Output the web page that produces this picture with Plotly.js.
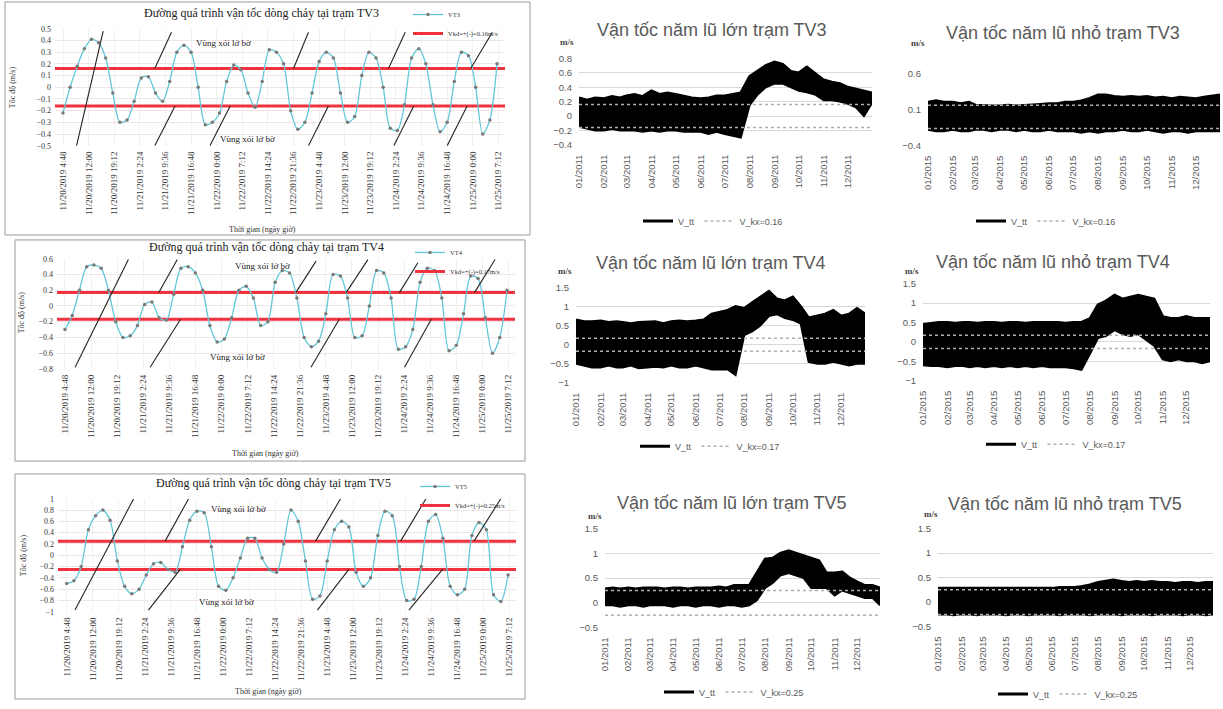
<!DOCTYPE html>
<html><head><meta charset="utf-8">
<script src="https://cdn.plot.ly/plotly-3.0.1.min.js"></script>
<style>html,body{margin:0;padding:0;background:#fff;} #chart{width:1223px;height:709px;}</style>
</head><body><div id="chart"></div>
<script>
// ---------- DATA: hourly-scale panels (left column) ----------
const hours = [0,2,4,6,8,10,12,14,16,18,20,22,24,26,28,30,32,34,36,38,40,42,44,46,48,50,52,54,56,58,60,62,64,66,68,70,72,74,76,78,80,82,84,86,88,90,92,94,96,98,100,102,104,106,108,110,112,114,116,118,120,122];
const tickHours = [0,7.2,14.4,21.6,28.8,36,43.2,50.4,57.6,64.8,72,79.2,86.4,93.6,100.8,108,115.2,122.4];
const tickLabels = ["11/20/2019 4:48","11/20/2019 12:00","11/20/2019 19:12","11/21/2019 2:24","11/21/2019 9:36","11/21/2019 16:48","11/22/2019 0:00","11/22/2019 7:12","11/22/2019 14:24","11/22/2019 21:36","11/23/2019 4:48","11/23/2019 12:00","11/23/2019 19:12","11/24/2019 2:24","11/24/2019 9:36","11/24/2019 16:48","11/25/2019 0:00","11/25/2019 7:12"];
const vTV3 = [-0.22,0.0,0.18,0.33,0.41,0.38,0.25,-0.05,-0.3,-0.28,-0.12,0.08,0.09,-0.05,-0.12,0.05,0.3,0.36,0.3,0.0,-0.32,-0.3,-0.22,0.05,0.19,0.15,-0.05,-0.17,0.05,0.32,0.3,0.2,-0.2,-0.36,-0.3,-0.05,0.22,0.3,0.25,-0.05,-0.3,-0.25,0.1,0.3,0.25,0.0,-0.35,-0.37,-0.15,0.25,0.33,0.2,-0.15,-0.38,-0.3,0.05,0.3,0.27,0.0,-0.4,-0.28,0.2];
const vTV4 = [-0.3,-0.12,0.2,0.5,0.52,0.48,0.2,-0.2,-0.4,-0.38,-0.25,0.02,0.05,-0.15,-0.18,0.15,0.48,0.5,0.42,0.2,-0.25,-0.46,-0.42,-0.15,0.2,0.25,0.1,-0.25,-0.2,0.3,0.45,0.42,0.1,-0.4,-0.52,-0.45,-0.1,0.4,0.38,0.1,-0.4,-0.38,0.0,0.45,0.42,0.1,-0.55,-0.52,-0.3,0.3,0.48,0.45,0.1,-0.57,-0.5,-0.1,0.38,0.35,-0.15,-0.6,-0.4,0.2];
const vTV5 = [-0.5,-0.45,-0.2,0.45,0.7,0.8,0.62,-0.1,-0.55,-0.68,-0.6,-0.35,-0.15,-0.13,-0.25,-0.3,0.15,0.62,0.78,0.75,0.15,-0.55,-0.62,-0.4,-0.05,0.3,0.3,-0.05,-0.25,-0.3,0.2,0.8,0.6,-0.1,-0.78,-0.72,-0.1,0.45,0.6,0.5,-0.3,-0.55,-0.4,0.35,0.78,0.7,-0.2,-0.8,-0.78,-0.2,0.6,0.72,0.3,-0.55,-0.7,-0.6,0.35,0.58,0.45,-0.7,-0.82,-0.35];
const kxTV3 = 0.16, kxTV4 = 0.17, kxTV5 = 0.25;
// leader lines of the "Vùng xói lở bờ" notes: [t0, v0, t1, v1]
const callTV3 = [[3.8,-0.5,11.3,0.48],[25.8,0.16,30.5,0.47],[64.8,0.16,69,0.47],[91.5,0.16,96.2,0.47],[114.6,0.16,120.7,0.47],[25.8,-0.5,31.5,-0.16],[41.3,-0.5,47,-0.16],[69,-0.5,74.6,-0.16],[93,-0.5,98.6,-0.16],[108,-0.5,113.6,-0.16]];
const callTV4 = [[2.8,-0.78,17.5,0.59],[25.9,0.17,31,0.59],[63.7,0.17,69.3,0.57],[77.6,0.17,83.6,0.59],[92.3,0.17,97.4,0.55],[113,0.17,118.7,0.59],[23.5,-0.78,31.9,-0.17],[67.9,-0.78,75.7,-0.17],[93.7,-0.78,101.1,-0.17]];
const callTV5 = [[2.3,-0.97,18.5,1.0],[27.2,0.25,33.7,1.0],[68.8,0.25,75.7,1.0],[92.3,0.25,99.3,1.0],[112.6,0.25,120,1.0],[22.6,-0.97,31.4,-0.25],[69.3,-0.97,78,-0.25],[94.6,-0.97,103.9,-0.25]];

// ---------- DATA: yearly panels (envelope of the dense series, every ~10 days) ----------
const bandDays = ["01-01","01-11","01-21","02-01","02-11","02-21","03-01","03-11","03-21","04-01","04-11","04-21","05-01","05-11","05-21","06-01","06-11","06-21","07-01","07-11","07-21","08-01","08-11","08-21","09-01","09-11","09-21","10-01","10-11","10-21","11-01","11-11","11-21","12-01","12-11","12-21","12-31"];
const upTV3_2011 = [0.25,0.22,0.25,0.24,0.27,0.25,0.28,0.3,0.27,0.35,0.3,0.32,0.3,0.28,0.25,0.24,0.25,0.28,0.28,0.3,0.32,0.55,0.62,0.7,0.75,0.72,0.62,0.6,0.68,0.6,0.5,0.47,0.45,0.4,0.37,0.35,0.32];
const loTV3_2011 = [-0.15,-0.18,-0.2,-0.2,-0.18,-0.2,-0.2,-0.2,-0.22,-0.2,-0.22,-0.2,-0.2,-0.22,-0.22,-0.22,-0.25,-0.22,-0.25,-0.28,-0.3,0.15,0.3,0.4,0.45,0.45,0.4,0.35,0.33,0.3,0.22,0.22,0.2,0.17,0.12,0.0,0.18];
const upTV3_2015 = [0.2,0.22,0.2,0.2,0.18,0.2,0.16,0.15,0.15,0.15,0.16,0.15,0.16,0.17,0.17,0.18,0.18,0.2,0.2,0.22,0.25,0.3,0.3,0.28,0.27,0.28,0.27,0.28,0.26,0.27,0.25,0.27,0.26,0.25,0.27,0.28,0.3];
const loTV3_2015 = [-0.18,-0.2,-0.2,-0.18,-0.2,-0.2,-0.18,-0.18,-0.2,-0.18,-0.18,-0.2,-0.18,-0.2,-0.2,-0.18,-0.2,-0.2,-0.2,-0.22,-0.2,-0.22,-0.2,-0.2,-0.18,-0.2,-0.2,-0.18,-0.2,-0.22,-0.2,-0.2,-0.22,-0.2,-0.2,-0.2,-0.2];
const upTV4_2011 = [0.65,0.6,0.6,0.62,0.58,0.6,0.58,0.55,0.58,0.6,0.6,0.55,0.6,0.62,0.6,0.62,0.65,0.8,0.85,0.9,1.0,0.95,1.1,1.25,1.4,1.2,1.15,1.25,1.0,0.7,0.75,0.8,0.9,0.75,0.8,0.95,0.8];
const loTV4_2011 = [-0.5,-0.55,-0.6,-0.6,-0.55,-0.6,-0.6,-0.55,-0.62,-0.6,-0.58,-0.6,-0.55,-0.6,-0.6,-0.55,-0.6,-0.65,-0.65,-0.65,-0.8,0.25,0.35,0.5,0.75,0.8,0.7,0.65,0.55,-0.45,-0.5,-0.5,-0.45,-0.5,-0.55,-0.5,-0.5];
const upTV4_2015 = [0.45,0.48,0.5,0.5,0.48,0.5,0.5,0.48,0.5,0.5,0.48,0.5,0.5,0.48,0.5,0.5,0.5,0.5,0.48,0.5,0.5,0.6,0.95,1.05,1.2,1.1,1.15,1.2,1.15,1.1,0.65,0.6,0.6,0.65,0.6,0.6,0.6];
const loTV4_2015 = [-0.6,-0.62,-0.62,-0.65,-0.62,-0.62,-0.65,-0.62,-0.65,-0.62,-0.65,-0.62,-0.65,-0.62,-0.65,-0.62,-0.65,-0.65,-0.65,-0.68,-0.72,-0.3,0.1,0.15,0.3,0.2,0.15,0.2,0.05,-0.1,-0.45,-0.5,-0.45,-0.5,-0.5,-0.55,-0.5];
const upTV5_2011 = [0.28,0.3,0.28,0.3,0.28,0.3,0.3,0.3,0.28,0.3,0.3,0.28,0.3,0.3,0.3,0.32,0.3,0.35,0.35,0.35,0.6,0.88,0.9,1.0,1.05,1.0,0.95,0.9,0.85,0.6,0.6,0.62,0.5,0.42,0.35,0.35,0.3];
const loTV5_2011 = [-0.05,-0.05,-0.08,-0.05,-0.05,-0.08,-0.05,-0.05,-0.05,-0.08,-0.05,-0.05,-0.08,-0.05,-0.05,-0.08,-0.05,-0.05,-0.08,-0.05,0.05,0.3,0.4,0.55,0.6,0.55,0.5,0.3,0.3,0.3,0.15,0.25,0.2,0.15,0.1,0.1,-0.05];
const upTV5_2015 = [0.28,0.28,0.27,0.28,0.27,0.28,0.28,0.27,0.28,0.27,0.28,0.28,0.27,0.28,0.28,0.28,0.3,0.3,0.3,0.32,0.35,0.4,0.42,0.45,0.42,0.4,0.42,0.4,0.42,0.4,0.4,0.38,0.4,0.4,0.38,0.4,0.4];
const loTV5_2015 = [-0.25,-0.25,-0.27,-0.25,-0.25,-0.27,-0.25,-0.25,-0.25,-0.27,-0.25,-0.25,-0.27,-0.25,-0.25,-0.25,-0.27,-0.25,-0.25,-0.25,-0.27,-0.25,-0.25,-0.25,-0.27,-0.25,-0.25,-0.25,-0.27,-0.25,-0.25,-0.25,-0.27,-0.25,-0.25,-0.27,-0.25];

// ---------- LAYOUT HELPERS ----------
const W = 1223, H = 709;
const fx = p => p / W, fy = p => 1 - p / H;
const SERIF = 'Liberation Serif, Times New Roman, serif';
const SANS = 'Liberation Sans, Arial, sans-serif';
const GREY = '#595959';

const leftPanels = [
  {st:'TV3', series:'VT3', vals:vTV3, kx:kxTV3, frame:[5,2,530,237], plot:[55,29,505,147], xr:[-2.25,124.25], yr:[-0.5,0.5], dtick:0.1,
   title:[261,13], ytitle:[12,88], xtitle:[262,231], leg:[408,0], calls:callTV3, zt:[45,0.38], zb:[52,-0.44]},
  {st:'TV4', series:'VT4', vals:vTV4, kx:kxTV4, frame:[15,242,525,465], plot:[57,261,515,372], xr:[-2.2,124.2], yr:[-0.8,0.6], dtick:0.2,
   title:[266,249], ytitle:[21,315], xtitle:[265,457], leg:[410,240], calls:callTV4, zt:[54.5,0.51], zb:[47.7,-0.65]},
  {st:'TV5', series:'VT5', vals:vTV5, kx:kxTV5, frame:[15,478,525,705], plot:[58,503,516,617], xr:[-2.4,124.2], yr:[-1,1], dtick:0.2,
   title:[273,487], ytitle:[23,560], xtitle:[268,697], leg:[415,476], calls:callTV5, zt:[47.5,0.82], zb:[44.3,-0.82]}
];
const rightPanels = [
  {title:'Vận tốc năm lũ lớn trạm TV3', year:2011, up:upTV3_2011, lo:loTV3_2011, kx:kxTV3, plot:[579,59,872,146], yr:[-0.4,0.8], dtick:0.2, tick0:0, tpos:[712,30], unit:[567,42], leg:[713,223]},
  {title:'Vận tốc năm lũ nhỏ trạm TV3', year:2015, up:upTV3_2015, lo:loTV3_2015, kx:kxTV3, plot:[928,74,1220,147], yr:[-0.4,0.6], dtick:0.5, tick0:-0.4, tpos:[1063,33], unit:[918,43], leg:[1046,223]},
  {title:'Vận tốc năm lũ lớn trạm TV4', year:2011, up:upTV4_2011, lo:loTV4_2011, kx:kxTV4, plot:[576,290,865,386], yr:[-1,1.5], dtick:0.5, tick0:0, tpos:[711,265], unit:[565,273], leg:[710,450]},
  {title:'Vận tốc năm lũ nhỏ trạm TV4', year:2015, up:upTV4_2015, lo:loTV4_2015, kx:kxTV4, plot:[923,286,1210,384], yr:[-1,1.5], dtick:0.5, tick0:0, tpos:[1053,264], unit:[912,273], leg:[1056,448]},
  {title:'Vận tốc năm lũ lớn trạm TV5', year:2011, up:upTV5_2011, lo:loTV5_2011, kx:kxTV5, plot:[605,533,880,633], yr:[-0.5,1.5], dtick:0.5, tick0:0, tpos:[732,507], unit:[595,520], leg:[734,698]},
  {title:'Vận tốc năm lũ nhỏ trạm TV5', year:2015, up:upTV5_2015, lo:loTV5_2015, kx:kxTV5, plot:[938,533,1213,632], yr:[-0.5,1.5], dtick:0.5, tick0:0, tpos:[1065,508], unit:[931,518], leg:[1068,700]}
];

const data = [];
const layout = {
  width: W, height: H, margin: {l:0, r:0, t:0, b:0},
  paper_bgcolor: '#fff', plot_bgcolor: 'rgba(0,0,0,0)',
  showlegend: true, annotations: [], shapes: []
};
let n = 0;
const axName = (k, a) => a + 'axis' + (k === 1 ? '' : k);
const axRef = (k, a) => a + (k === 1 ? '' : k);
const legName = k => 'legend' + (k === 1 ? '' : k);

// ----- left panels -----
leftPanels.forEach(p => {
  n += 1;
  const xa = axRef(n, 'x'), ya = axRef(n, 'y'), lg = legName(n);
  layout.shapes.push({type:'rect', xref:'paper', yref:'paper', x0:fx(p.frame[0]), x1:fx(p.frame[2]), y0:fy(p.frame[3]), y1:fy(p.frame[1]), line:{color:'#9a9a9a', width:1}, layer:'below'});
  layout[axName(n,'x')] = {domain:[fx(p.plot[0]), fx(p.plot[2])], range:p.xr, anchor:ya,
    tickmode:'array', tickvals:tickHours, ticktext:tickLabels, tickangle:-90, ticklabelstandoff:3,
    tickfont:{family:SERIF, size:9, color:'#333'}, showgrid:true, gridcolor:'#eef3ee', gridwidth:1,
    zeroline:false, showline:false, ticks:''};
  layout[axName(n,'y')] = {domain:[fy(p.plot[3]), fy(p.plot[1])], range:p.yr, anchor:xa,
    dtick:p.dtick, tick0:0, tickfont:{family:SERIF, size:8, color:'#333'}, showgrid:true, ticklabelstandoff:3,
    gridcolor:'#f1e4e6', zeroline:false, showline:false, ticks:''};
  // red threshold lines
  data.push({type:'scatter', mode:'lines', x:[p.xr[0], p.xr[1]], y:[p.kx, p.kx], xaxis:xa, yaxis:ya,
    line:{color:'#f0323f', width:3}, name:'Vkđ=+(-)=' + p.kx.toFixed(2) + 'm/s', legend:lg, legendrank:2, hoverinfo:'skip'});
  data.push({type:'scatter', mode:'lines', x:[p.xr[0], p.xr[1]], y:[-p.kx, -p.kx], xaxis:xa, yaxis:ya,
    line:{color:'#f0323f', width:3}, showlegend:false, hoverinfo:'skip'});
  // velocity curve
  data.push({type:'scatter', mode:'lines+markers', x:hours, y:p.vals, xaxis:xa, yaxis:ya,
    line:{color:'#62c8d8', width:1.3, shape:'spline', smoothing:0.8},
    marker:{color:'#7a7a7a', size:3.5}, name:p.series, legend:lg, legendrank:1});
  // leader lines
  p.calls.forEach(c => layout.shapes.push({type:'line', xref:xa, yref:ya, x0:c[0], y0:c[1], x1:c[2], y1:c[3], line:{color:'#222', width:1.1}}));
  layout.annotations.push(
    {xref:'paper', yref:'paper', x:fx(p.title[0]), y:fy(p.title[1]), text:'Đường quá trình vận tốc dòng chảy tại trạm ' + p.st,
     showarrow:false, font:{family:SERIF, size:12, color:'#222'}, xanchor:'center', yanchor:'middle'},
    {xref:'paper', yref:'paper', x:fx(p.ytitle[0]), y:fy(p.ytitle[1]), text:'Tốc độ (m/s)', textangle:-90,
     showarrow:false, font:{family:SERIF, size:8, color:'#333'}, xanchor:'center', yanchor:'middle'},
    {xref:'paper', yref:'paper', x:fx(p.xtitle[0]), y:fy(p.xtitle[1]), text:'Thời gian (ngày giờ)',
     showarrow:false, font:{family:SERIF, size:8, color:'#333'}, xanchor:'center', yanchor:'middle'},
    {xref:xa, yref:ya, x:p.zt[0], y:p.zt[1], text:'Vùng xói lở bờ', showarrow:false, font:{family:SERIF, size:9, color:'#222'}},
    {xref:xa, yref:ya, x:p.zb[0], y:p.zb[1], text:'Vùng xói lở bờ', showarrow:false, font:{family:SERIF, size:9, color:'#222'}}
  );
  layout[lg] = {x:fx(p.leg[0]), y:fy(p.leg[1]), xanchor:'left', yanchor:'top', orientation:'v',
    font:{family:SERIF, size:6.5, color:'#333'}, bgcolor:'rgba(0,0,0,0)', tracegroupgap:0, itemwidth:30, traceorder:'normal'};
});

// ----- right panels -----
rightPanels.forEach(p => {
  n += 1;
  const xa = axRef(n, 'x'), ya = axRef(n, 'y'), lg = legName(n);
  const dates = bandDays.map(d => p.year + '-' + d);
  const x0 = dates[0], x1 = dates[dates.length - 1];
  layout[axName(n,'x')] = {domain:[fx(p.plot[0]), fx(p.plot[2])], type:'date', range:[x0, x1], anchor:ya,
    tickformat:'%m/%Y', dtick:'M1', tick0:x0, tickangle:-90, ticklabelstandoff:7, tickfont:{family:SANS, size:9.5, color:GREY},
    showgrid:false, zeroline:false, showline:false, ticks:''};
  layout[axName(n,'y')] = {domain:[fy(p.plot[3]), fy(p.plot[1])], range:p.yr, anchor:xa,
    dtick:p.dtick, tick0:p.tick0, tickfont:{family:SANS, size:9.5, color:GREY}, showgrid:true, ticklabelstandoff:6,
    gridcolor:'#d9d9d9', zeroline:false, showline:false, ticks:''};
  data.push({type:'scatter', mode:'lines', x:dates, y:p.up, xaxis:xa, yaxis:ya,
    line:{color:'#000', width:3}, name:'V_tt', legend:lg, legendrank:1, hoverinfo:'skip'});
  data.push({type:'scatter', mode:'lines', x:dates, y:p.lo, xaxis:xa, yaxis:ya, fill:'tonexty', fillcolor:'#000',
    line:{color:'#000', width:2}, showlegend:false, hoverinfo:'skip'});
  data.push({type:'scatter', mode:'lines', x:[x0, x1], y:[p.kx, p.kx], xaxis:xa, yaxis:ya,
    line:{color:'#b0b0b0', width:1.5, dash:'dot'}, name:'V_kx=' + p.kx.toFixed(2), legend:lg, legendrank:2, hoverinfo:'skip'});
  data.push({type:'scatter', mode:'lines', x:[x0, x1], y:[-p.kx, -p.kx], xaxis:xa, yaxis:ya,
    line:{color:'#b0b0b0', width:1.5, dash:'dot'}, showlegend:false, hoverinfo:'skip'});
  layout.annotations.push(
    {xref:'paper', yref:'paper', x:fx(p.tpos[0]), y:fy(p.tpos[1]), text:p.title, showarrow:false,
     font:{family:SANS, size:18, color:GREY}, xanchor:'center', yanchor:'middle'},
    {xref:'paper', yref:'paper', x:fx(p.unit[0]), y:fy(p.unit[1]), text:'<b>m/s</b>', showarrow:false,
     font:{family:SERIF, size:9, color:'#444'}, xanchor:'center', yanchor:'middle'}
  );
  layout[lg] = {x:fx(p.leg[0]), y:fy(p.leg[1]), xanchor:'center', yanchor:'middle', orientation:'h',
    font:{family:SANS, size:9, color:GREY}, bgcolor:'rgba(0,0,0,0)', itemwidth:30, traceorder:'normal'};
});

Plotly.newPlot('chart', data, layout, {staticPlot:true, displayModeBar:false});
</script>
</body></html>
